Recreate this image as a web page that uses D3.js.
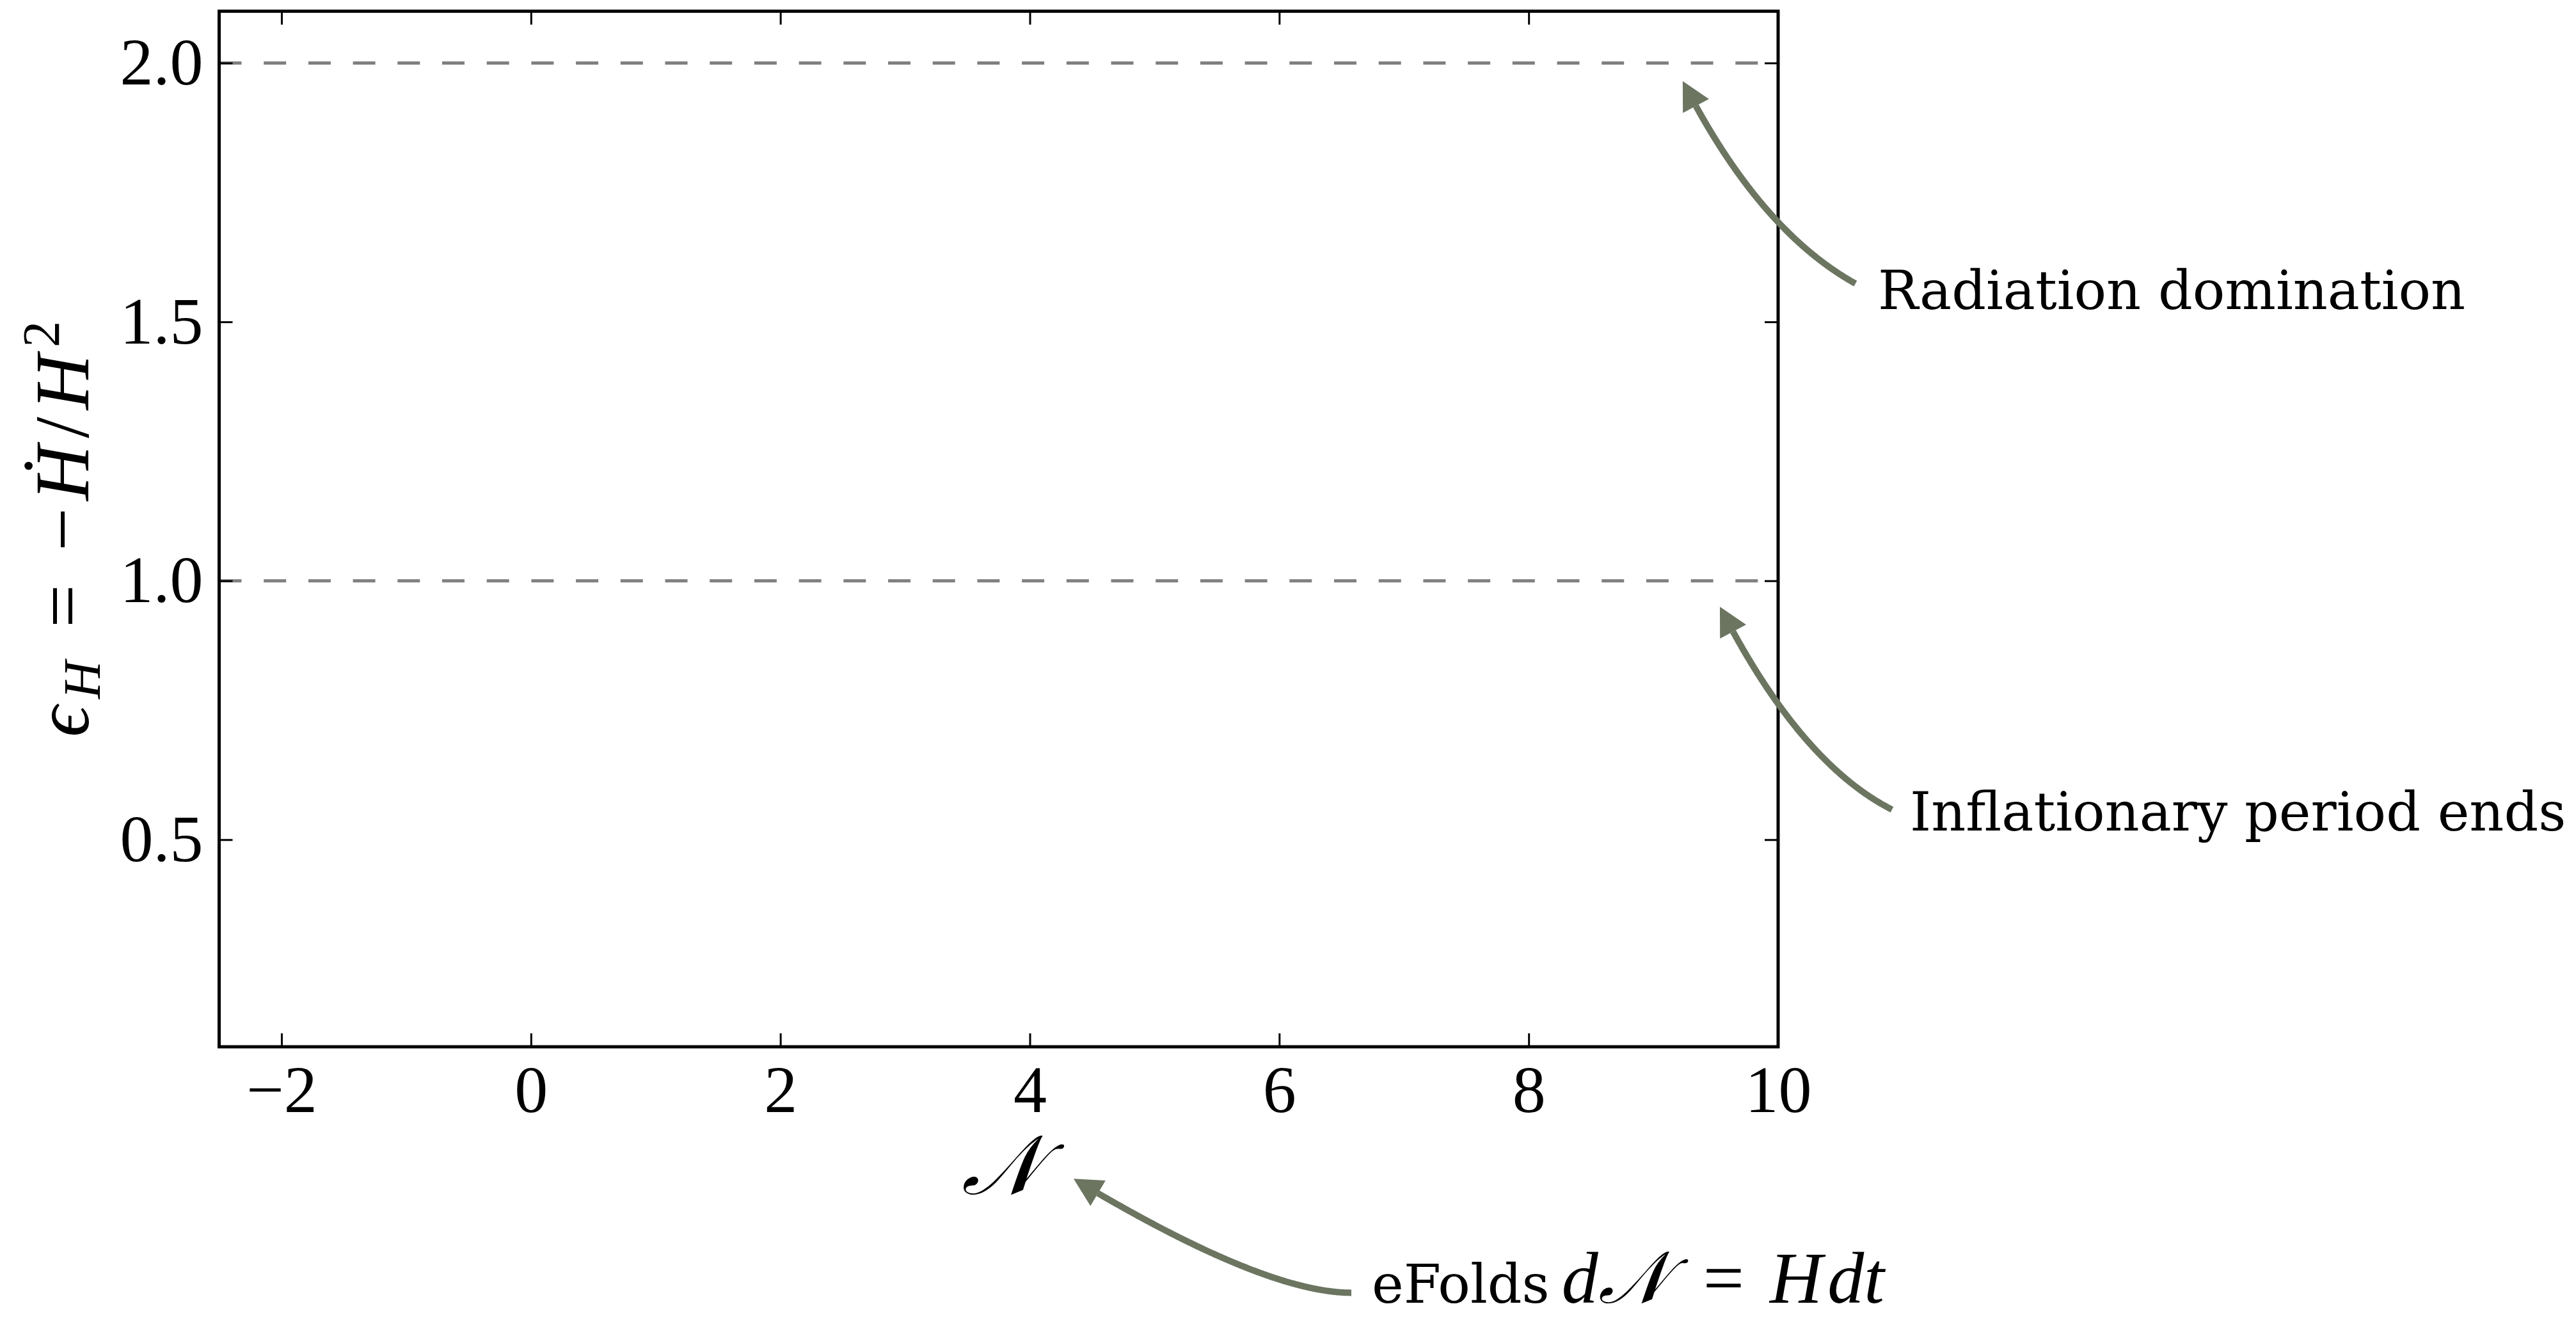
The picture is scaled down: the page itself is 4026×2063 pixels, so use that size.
<!DOCTYPE html>
<html><head><meta charset="utf-8">
<script src="https://cdn.jsdelivr.net/npm/d3@7"></script>
<style>body{margin:0;background:#fff}</style>
</head><body>
<script>
// ---------- data ----------
const xDomain = [-2.5, 10];
const yDomain = [0.1, 2.1];
const xTicks = [-2, 0, 2, 4, 6, 8, 10];
const yTicks = [0.5, 1.0, 1.5, 2.0];
const refLines = [2.0, 1.0];
const annTexts = ["Radiation domination", "Inflationary period ends", "eFolds"];
const annTip  = [[9.235, 1.965], [9.533, 0.950], [4.351, -0.155]];
const annTail = [[10.62, 1.574], [10.913, 0.558], [6.578, -0.375]];
const annTextPos = [[10.80, 1.525], [11.057, 0.518], [6.742, -0.394]];
const annAngleA = [-29, -27, 0];
const annAngleB = [-63, -63, -31];

// ---------- setup ----------
const W = 4026, H = 2063;
const svg = d3.select("body").append("svg").attr("width", W).attr("height", H)
  .style("background", "#fff");
const x = d3.scaleLinear().domain(xDomain).range([342.5, 2779]);
const y = d3.scaleLinear().domain(yDomain).range([1636, 17.5]);
const tickFont = "'Liberation Serif', 'DejaVu Serif', serif";
const textFont = "'DejaVu Serif', serif";
const arrowColor = "#6b7560";

// reference dashed lines
svg.selectAll("line.ref").data(refLines).join("line").attr("class", "ref")
  .attr("x1", x(xDomain[0])).attr("x2", x(xDomain[1]))
  .attr("y1", d => y(d)).attr("y2", d => y(d))
  .attr("stroke", "#808080").attr("stroke-width", 5)
  .attr("stroke-dasharray", "35,34.7");

// axes
function styleAxis(g, showText) {
  g.select(".domain").remove();
  g.selectAll(".tick line").attr("stroke", "#000").attr("stroke-width", 3);
  g.selectAll(".tick text").attr("font-family", tickFont).attr("font-size", 104)
    .attr("fill", "#000").style("display", showText ? null : "none");
}
const fmtX = d => (d < 0 ? "\u2212" + Math.abs(d) : String(d));
svg.append("g").attr("transform", `translate(0,${y(yDomain[0])})`)
  .call(d3.axisBottom(x).tickValues(xTicks).tickSize(-21).tickSizeOuter(0).tickPadding(28).tickFormat(fmtX))
  .call(g => styleAxis(g, true));
svg.append("g").attr("transform", `translate(0,${y(yDomain[1])})`)
  .call(d3.axisTop(x).tickValues(xTicks).tickSize(-21).tickSizeOuter(0).tickFormat(""))
  .call(g => styleAxis(g, false));
svg.append("g").attr("transform", `translate(${x(xDomain[0])},0)`)
  .call(d3.axisLeft(y).tickValues(yTicks).tickSize(-21).tickSizeOuter(0).tickPadding(25).tickFormat(d3.format(".1f")))
  .call(g => styleAxis(g, true));
svg.append("g").attr("transform", `translate(${x(xDomain[1])},0)`)
  .call(d3.axisRight(y).tickValues(yTicks).tickSize(-21).tickSizeOuter(0).tickFormat(""))
  .call(g => styleAxis(g, false));

// spines
svg.append("rect")
  .attr("x", x(xDomain[0])).attr("y", y(yDomain[1]))
  .attr("width", x(xDomain[1]) - x(xDomain[0])).attr("height", y(yDomain[0]) - y(yDomain[1]))
  .attr("fill", "none").attr("stroke", "#000").attr("stroke-width", 5);

// y label
const yl = svg.append("text")
  .attr("transform", `translate(138,${(y(yDomain[0]) + y(yDomain[1])) / 2}) rotate(-90)`)
  .attr("text-anchor", "middle").attr("font-family", tickFont).attr("font-size", 120).attr("fill", "#000")
  .attr("textLength", 650).attr("lengthAdjust", "spacing");
yl.append("tspan").attr("font-style", "italic").text("\u03F5");
yl.append("tspan").attr("font-style", "italic").attr("font-size", 82).attr("dy", 18).text("H");
yl.append("tspan").attr("dy", -18).text(" = \u2212");
yl.append("tspan").attr("font-style", "italic").text("H\u0307");
yl.append("tspan").text("/");
yl.append("tspan").attr("font-style", "italic").text("H");
yl.append("tspan").attr("font-size", 82).attr("dy", -46).text("2");

// x label
svg.append("text").attr("x", (x(xDomain[0]) + x(xDomain[1])) / 2 + 5).attr("y", 1866)
  .attr("text-anchor", "middle").attr("font-family", tickFont).attr("font-style", "italic")
  .attr("font-size", 130).attr("fill", "#000").text("\uD835\uDCA9");

// annotations
function ctrlPoint(p1, a1, p2, a2) {
  const r1 = a1 * Math.PI / 180, r2 = a2 * Math.PI / 180;
  const d1 = [Math.cos(r1), -Math.sin(r1)], d2 = [Math.cos(r2), -Math.sin(r2)];
  const cross = (a, b) => a[0] * b[1] - a[1] * b[0];
  const s = cross([p2[0] - p1[0], p2[1] - p1[1]], d2) / cross(d1, d2);
  return [p1[0] + s * d1[0], p1[1] + s * d1[1]];
}
const headL = 44, headW = 46;
annTexts.forEach((txt, i) => {
  const P0 = [x(annTail[i][0]), y(annTail[i][1])];
  const P2 = [x(annTip[i][0]), y(annTip[i][1])];
  const C = ctrlPoint(P0, annAngleA[i], P2, annAngleB[i]);
  const B = t => [(1 - t) * (1 - t) * P0[0] + 2 * (1 - t) * t * C[0] + t * t * P2[0],
                  (1 - t) * (1 - t) * P0[1] + 2 * (1 - t) * t * C[1] + t * t * P2[1]];
  let tEnd = 1;
  for (let t = 1; t >= 0; t -= 0.0005) {
    const p = B(t);
    if (Math.hypot(p[0] - P2[0], p[1] - P2[1]) >= headL) { tEnd = t; break; }
  }
  const pts = d3.range(0, 201).map(k => B(tEnd * k / 200));
  svg.append("path").attr("d", d3.line()(pts)).attr("fill", "none")
    .attr("stroke", arrowColor).attr("stroke-width", 10);
  const base = B(tEnd);
  const ux = (P2[0] - base[0]) / headL, uy = (P2[1] - base[1]) / headL;
  const px = -uy * headW / 2, py = ux * headW / 2;
  svg.append("path").attr("d", `M${P2[0]},${P2[1]}L${base[0] + px},${base[1] + py}L${base[0] - px},${base[1] - py}Z`)
    .attr("fill", arrowColor);
  const t = svg.append("text").attr("x", x(annTextPos[i][0])).attr("y", y(annTextPos[i][1]))
    .attr("font-family", textFont).attr("font-size", 84).attr("fill", "#000").text(txt);
  if (i === 2) {
    const m = t.append("tspan").attr("font-family", tickFont).attr("font-size", 114).attr("dx", 19);
    m.append("tspan").attr("font-style", "italic").text("d\uD835\uDCA9");
    m.append("tspan").attr("dx", 55).text("=");
    m.append("tspan").attr("dx", 40).attr("font-style", "italic").text("H");
    m.append("tspan").attr("dx", 8).attr("font-style", "italic").text("dt");
  }
});
</script>
</body></html>
